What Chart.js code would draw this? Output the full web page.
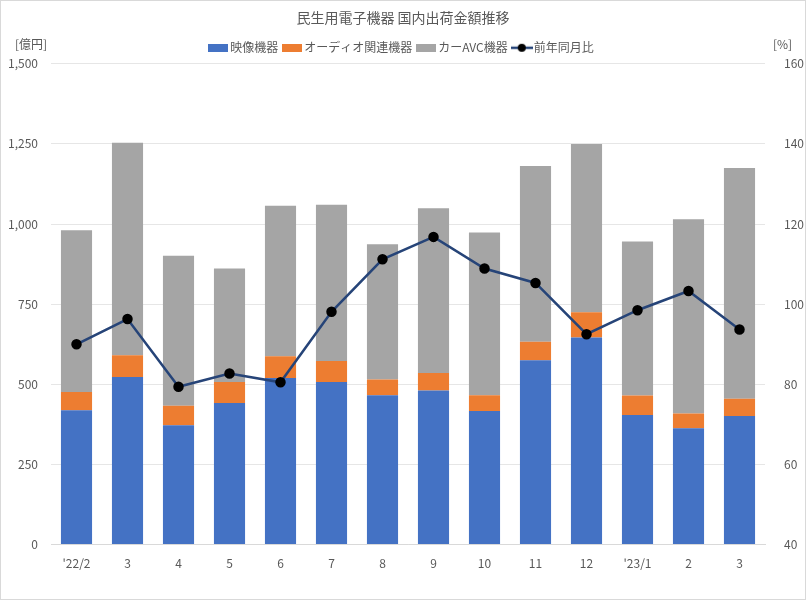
<!DOCTYPE html>
<html>
<head>
<meta charset="utf-8">
<script src="https://cdn.jsdelivr.net/npm/chart.js@4"></script>
<style>
  html, body { margin: 0; padding: 0; background: #fff; }
  #wrap { position: relative; width: 804px; height: 598px; border: 1px solid #d9d9d9; }
</style>
</head>
<body>
<div id="wrap"><canvas id="chart" width="804" height="598"></canvas></div>
<script>
const labels = ["'22/2", "3", "4", "5", "6", "7", "8", "9", "10", "11", "12", "'23/1", "2", "3"];
const video = [419, 523, 372, 442, 520, 507, 466, 481, 417, 575, 646, 404, 363, 401];
const audio = [57, 68, 61, 65, 68, 66, 49, 54, 49, 58, 79, 61, 46, 54];
const carAvc = [505, 663, 468, 354, 469, 487, 422, 514, 508, 548, 525, 481, 606, 720];
const yoy = [90.0, 96.3, 79.4, 82.7, 80.5, 98.1, 111.2, 116.8, 108.9, 105.3, 92.5, 98.5, 103.3, 93.7];

const font = "'Noto Sans CJK JP', 'Noto Sans', sans-serif";
const textColor = "#595959";

// small legend markers: a box for bars, a line with a dot for the line series
function boxIcon(color) {
  const c = document.createElement("canvas");
  c.width = 20; c.height = 8;
  const g = c.getContext("2d");
  g.fillStyle = color;
  g.fillRect(0, 0, 20, 8);
  return c;
}
function lineIcon(color) {
  const c = document.createElement("canvas");
  c.width = 22; c.height = 10;
  const g = c.getContext("2d");
  g.strokeStyle = color;
  g.lineWidth = 2.5;
  g.beginPath(); g.moveTo(0, 5); g.lineTo(22, 5); g.stroke();
  g.fillStyle = "#000";
  g.beginPath(); g.arc(11, 5, 4, 0, Math.PI * 2); g.fill();
  return c;
}

const unitLabels = {
  id: "unitLabels",
  afterDraw(chart) {
    const ctx = chart.ctx;
    ctx.save();
    ctx.font = "12px " + font;
    ctx.fillStyle = textColor;
    ctx.textBaseline = "middle";
    ctx.textAlign = "left";
    ctx.fillText("[億円]", 14, 43);
    ctx.fillText("[%]", 772, 43);
    ctx.restore();
  }
};

new Chart(document.getElementById("chart"), {
  type: "bar",
  data: {
    labels: labels,
    datasets: [
      { label: "映像機器", data: video, backgroundColor: "#4472c4", stack: "s", order: 1, yAxisID: "y" },
      { label: "オーディオ関連機器", data: audio, backgroundColor: "#ed7d31", stack: "s", order: 1, yAxisID: "y" },
      { label: "カーAVC機器", data: carAvc, backgroundColor: "#a5a5a5", stack: "s", order: 1, yAxisID: "y" },
      { type: "line", label: "前年同月比", data: yoy, borderColor: "#264478", backgroundColor: "#264478",
        borderWidth: 2.5, pointBackgroundColor: "#000", pointBorderColor: "#000", pointRadius: 4,
        order: 0, yAxisID: "y1" }
    ]
  },
  options: {
    responsive: false,
    animation: false,
    layout: { padding: { left: 0, right: 0, top: 2, bottom: 24 } },
    datasets: { bar: { barPercentage: 0.61, categoryPercentage: 1 } },
    plugins: {
      title: { display: true, text: "民生用電子機器 国内出荷金額推移", color: textColor,
        font: { family: font, size: 14, weight: "normal" }, padding: { top: 6, bottom: 8 } },
      legend: {
        display: true,
        labels: {
          color: textColor, font: { family: font, size: 12 }, padding: 8, usePointStyle: true,
          sort: (a, b) => a.datasetIndex - b.datasetIndex,
          generateLabels: chart => {
            const items = Chart.defaults.plugins.legend.labels.generateLabels(chart);
            items.forEach(it => {
              const ds = chart.data.datasets[it.datasetIndex];
              it.pointStyle = ds.type === "line" ? lineIcon(ds.borderColor) : boxIcon(ds.backgroundColor);
            });
            return items;
          }
        }
      },
      tooltip: { enabled: false }
    },
    scales: {
      x: {
        stacked: true,
        grid: { display: false },
        border: { color: "#d9d9d9" },
        ticks: { color: textColor, font: { family: font, size: 12 }, padding: 4 }
      },
      y: {
        stacked: true, min: 0, max: 1500,
        ticks: { stepSize: 250, color: textColor, font: { family: font, size: 12 }, padding: 13 },
        grid: { color: "#e6e6e6", drawTicks: false },
        border: { display: false },
        afterFit: s => { s.width = 50; }
      },
      y1: {
        position: "right", min: 40, max: 160,
        ticks: { stepSize: 20, color: textColor, font: { family: font, size: 12 }, padding: 11 },
        grid: { display: false },
        border: { display: false },
        afterFit: s => { s.width = 40; }
      }
    }
  },
  plugins: [unitLabels]
});
</script>
</body>
</html>
